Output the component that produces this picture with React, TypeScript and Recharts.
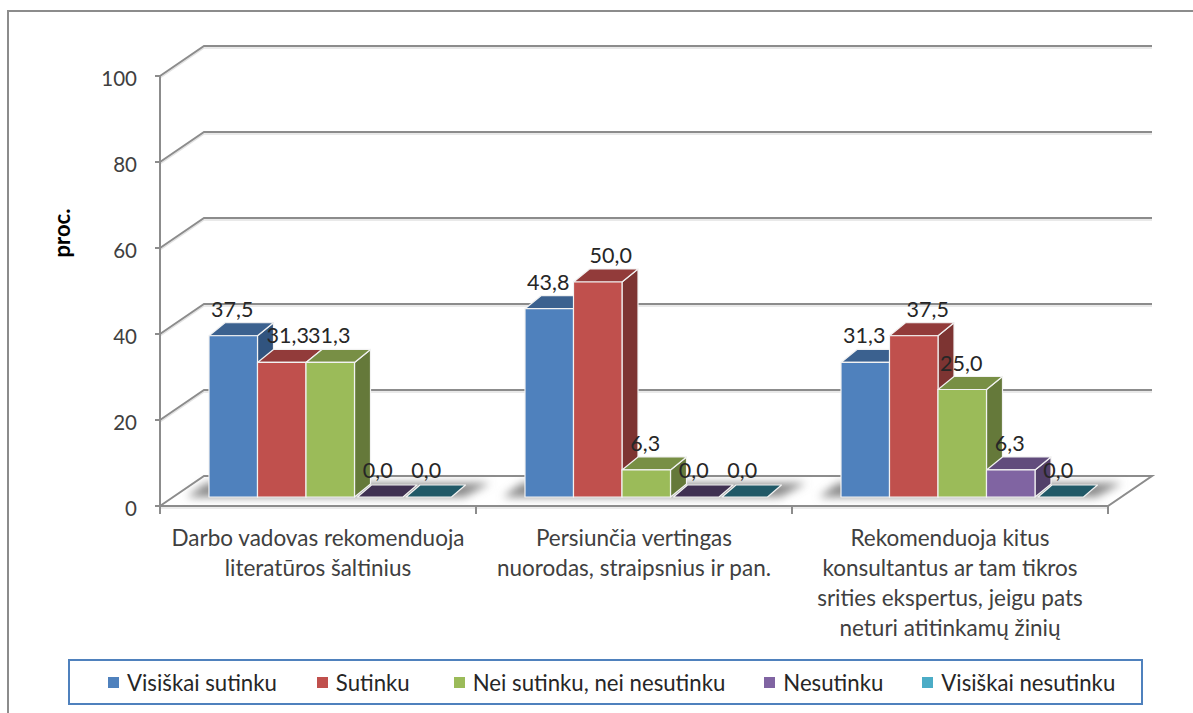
import { BarChart, Bar, XAxis, YAxis, CartesianGrid, LabelList, Legend } from "recharts";

const categories = [
  "Darbo vadovas rekomenduoja\nliteratūros šaltinius",
  "Persiunčia vertingas\nnuorodas, straipsnius ir pan.",
  "Rekomenduoja kitus\nkonsultantus ar tam tikros\nsrities ekspertus, jeigu pats\nneturi atitinkamų žinių",
];
const seriesNames = ["Visiškai sutinku", "Sutinku", "Nei sutinku, nei nesutinku", "Nesutinku", "Visiškai nesutinku"];
const visiskaiSutinku = [37.5, 43.8, 31.3];
const sutinku = [31.3, 50.0, 37.5];
const neiNei = [31.3, 6.3, 25.0];
const nesutinku = [0.0, 0.0, 6.3];
const visiskaiNesutinku = [0.0, 0.0, 0.0];
const yTicks = [0, 20, 40, 60, 80, 100];

const frontColors = ["#4F81BD", "#C0504D", "#9BBB59", "#8064A2", "#4BACC6"];
const topColors = ["#3B618F", "#923B3A", "#788F45", "#614C7C", "#2F7F95"];
const sideColors = ["#31547F", "#7D3432", "#65793A", "#523F69", "#276A7C"];
const flatColors = ["#31547F", "#7D3432", "#65793A", "#403152", "#215967"];

const rows = categories.map((name, i) => ({
  name,
  s0: visiskaiSutinku[i],
  s1: sutinku[i],
  s2: neiNei[i],
  s3: nesutinku[i],
  s4: visiskaiNesutinku[i],
}));

const FONT = "Lato, sans-serif";
const LINE = "#8C8C8C";
// the plot is drawn as a fake 3D box
const WALL = { dx: 44, dy: -30 };
const BASE = { dx: 12, dy: -9 };
const DEPTH = { dx: 16, dy: -13 };
// red labels were dragged sideways by hand in the original
const RED_LABEL_NUDGE = [7, 14, 15];
const LEGEND_GAPS = [40, 44, 39, 39, 0];

function GridLine(props: any) {
  const { x1, y1, x2, y, height, index } = props;
  const isFloor = y1 >= y + height - 0.5;
  const bx1 = x1 + WALL.dx;
  const bx2 = x2 + WALL.dx;
  const by = y1 + WALL.dy;
  if (!isFloor) {
    return (
      <g key={`grid-${index}`} fill="none">
        <path d={`M${x1},${y1 + 2} L${bx1},${by + 2} L${bx2},${by + 2}`} stroke="#E2E2E2" strokeWidth={1.5} />
        <path d={`M${x1},${y1} L${bx1},${by} L${bx2},${by}`} stroke={LINE} strokeWidth={2} />
      </g>
    );
  }
  const step = (x2 - x1) / categories.length;
  return (
    <g key={`grid-${index}`}>
      <defs>
        <filter id="floorShadow" x="-10%" y="-60%" width="120%" height="220%">
          <feGaussianBlur stdDeviation="4" />
        </filter>
      </defs>
      <path
        d={`M${x1},${y1} L${bx1},${by} L${bx2},${by} L${x2},${y1} Z`}
        fill="#fff"
        stroke={LINE}
        strokeWidth={2}
      />
      {categories.map((_, i) => {
        const left = x1 + i * step;
        return (
          <path
            key={i}
            d={`M${left + 27},${y1 - 9} L${left + 304},${y1 - 9} L${left + 330},${by + 7} L${left + 46},${by + 7} Z`}
            fill="#8A8A8A"
            filter="url(#floorShadow)"
          />
        );
      })}
      <path d={`M${x1},${y1 + 2} L${x2},${y1 + 2}`} stroke="#D8D8D8" strokeWidth={1} />
      {[...categories, ""].map((_, i) => {
        const tx = x1 + i * step;
        return <line key={i} x1={tx} x2={tx} y1={y1} y2={y1 + 8} stroke={LINE} strokeWidth={2} />;
      })}
    </g>
  );
}

function Box3D(props: any) {
  const { x, y, width, height, idx } = props;
  const left = x + BASE.dx;
  const right = left + width;
  const top = y + BASE.dy;
  const bottom = top + height;
  const { dx, dy } = DEPTH;
  const edge = { stroke: "#F2F2F2", strokeWidth: 1.2, strokeLinejoin: "round" as const };
  if (height < 0.5) {
    return (
      <path
        d={`M${left + 3},${bottom} L${right},${bottom} L${right + dx - 2},${bottom + dy + 1} L${left + dx + 1},${bottom + dy + 1} Z`}
        fill={flatColors[idx]}
        {...edge}
      />
    );
  }
  return (
    <g>
      <path
        d={`M${right},${top} L${right + dx},${top + dy} L${right + dx},${bottom + dy} L${right},${bottom} Z`}
        fill={sideColors[idx]}
        {...edge}
      />
      <path
        d={`M${left},${top} L${left + dx},${top + dy} L${right + dx},${top + dy} L${right},${top} Z`}
        fill={topColors[idx]}
        {...edge}
      />
      <rect x={left} y={top} width={width} height={height} fill={frontColors[idx]} {...edge} />
    </g>
  );
}

function ValueLabel(props: any) {
  const { x, y, width, value, index, series } = props;
  const nudge = series === 1 ? RED_LABEL_NUDGE[index] : 0;
  return (
    <text
      x={x + width / 2 + BASE.dx - 1 + nudge}
      y={y + BASE.dy - 19}
      textAnchor="middle"
      fontFamily={FONT}
      fontSize={21.5}
      fill="#262626"
    >
      {Number(value).toFixed(1).replace(".", ",")}
    </text>
  );
}

function YTick(props: any) {
  const { x, y, payload } = props;
  return (
    <text x={x} y={y + 10} textAnchor="end" fontFamily={FONT} fontSize={20.5} fill="#404040">
      {payload.value}
    </text>
  );
}

function XTick(props: any) {
  const { x, y, payload } = props;
  return (
    <text textAnchor="middle" fontFamily={FONT} fontSize={22.5} fill="#404040">
      {String(payload.value)
        .split("\n")
        .map((line, i) => (
          <tspan key={i} x={x} y={y + 32 + i * 30}>
            {line}
          </tspan>
        ))}
    </text>
  );
}

function AxisTitle() {
  return (
    <text
      transform="translate(70,233) rotate(-90)"
      textAnchor="middle"
      fontFamily={FONT}
      fontSize={22}
      fontWeight={700}
      fill="#000"
    >
      proc.
    </text>
  );
}

function LegendBox(props: any) {
  return (
    <div
      style={{
        boxSizing: "border-box",
        height: 46,
        border: "2px solid #4F81BD",
        display: "flex",
        alignItems: "center",
        paddingLeft: 38,
        fontFamily: FONT,
        fontSize: 22.2,
        color: "#262626",
        whiteSpace: "nowrap",
      }}
    >
      {props.payload.map((p: any, i: number) => (
        <span key={p.value} style={{ display: "flex", alignItems: "center", gap: 8, marginRight: LEGEND_GAPS[i] }}>
          <span style={{ width: 11, height: 11, background: p.color, display: "inline-block" }} />
          {p.value}
        </span>
      ))}
    </div>
  );
}

export default function App() {
  return (
    <div style={{ position: "absolute", left: 0, top: 0, width: 1193, height: 713, overflow: "hidden", background: "#fff" }}>
      <div
        style={{
          position: "absolute",
          left: 7,
          top: 10,
          right: 0,
          bottom: 0,
          borderLeft: "2px solid #8C8C8C",
          borderTop: "2px solid #8C8C8C",
        }}
      />
      <BarChart
        width={1193}
        height={713}
        data={rows}
        barGap={0}
        barSize={48.5}
        margin={{ top: 76, right: 85, bottom: 8, left: 60 }}
        style={{ position: "absolute", left: 0, top: 0 }}
      >
        <CartesianGrid horizontal={(p: any) => <GridLine {...p} />} vertical={false} />
        <XAxis dataKey="name" height={153} interval={0} axisLine={false} tickLine={false} tick={<XTick />} />
        <YAxis
          width={100}
          domain={[0, 100]}
          ticks={yTicks}
          axisLine={{ stroke: LINE, strokeWidth: 2 }}
          tickLine={{ stroke: LINE, strokeWidth: 2 }}
          tickSize={5}
          tickMargin={18}
          tick={<YTick />}
          label={{ content: <AxisTitle /> }}
        />
        <Legend
          content={<LegendBox />}
          itemSorter={null}
          wrapperStyle={{ left: 68, width: 1075 }}
        />
        {seriesNames.map((name, i) => (
          <Bar
            key={name}
            dataKey={`s${i}`}
            name={name}
            fill={frontColors[i]}
            isAnimationActive={false}
            shape={(p: any) => <Box3D {...p} idx={i} />}
          >
            <LabelList dataKey={`s${i}`} content={(p: any) => <ValueLabel {...p} series={i} />} />
          </Bar>
        ))}
      </BarChart>
    </div>
  );
}
